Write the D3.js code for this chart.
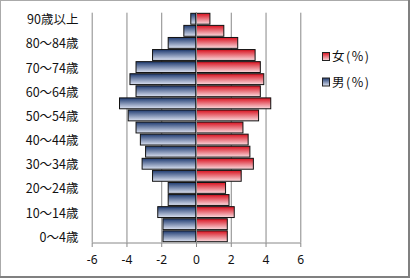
<!DOCTYPE html>
<html><head><meta charset="utf-8">
<script src="https://cdn.jsdelivr.net/npm/d3@7/dist/d3.min.js"></script>
<style>body{margin:0;background:#fff}svg{display:block}text{font-family:"Noto Sans CJK JP","Noto Sans",sans-serif;fill:#111}</style>
</head><body><svg id="c" width="410" height="278"></svg>
<script>
const categories = ["0～4歳","5～9歳","10～14歳","15～19歳","20～24歳","25～29歳","30～34歳","35～39歳","40～44歳","45～49歳","50～54歳","55～59歳","60～64歳","65～69歳","70～74歳","75～79歳","80～84歳","85～89歳","90歳以上"];
const male = [-1.9,-1.9,-2.2,-1.6,-1.6,-2.5,-3.1,-2.9,-3.2,-3.45,-3.9,-4.4,-3.45,-3.8,-3.45,-2.5,-1.6,-0.7,-0.3];
const female = [1.8,1.8,2.2,1.9,1.7,2.6,3.3,3.1,3.0,2.7,3.6,4.3,3.7,3.9,3.7,3.4,2.4,1.6,0.8];
const xTicks = [-6,-4,-2,0,2,4,6];
const seriesNames = ["女(%)","男(%)"];

const svg = d3.select("#c");
const defs = svg.append("defs");
function grad(id, c1, c2){
  const g = defs.append("linearGradient").attr("id",id).attr("x1",0).attr("y1",0).attr("x2",0).attr("y2",1);
  g.append("stop").attr("offset","0%").attr("stop-color",c1);
  g.append("stop").attr("offset","100%").attr("stop-color",c2);
}
grad("gm","#1e3a70","#dde3f2");
grad("gf","#d8101e","#fadce0");

const x = d3.scaleLinear().domain([-6,6]).range([91.7,300.3]);
const y = d3.scaleBand().domain(categories.slice().reverse()).range([12.7,242.3]).paddingInner(0.1).paddingOuter(0.05);

// gridlines
svg.append("g").selectAll("line").data(xTicks).join("line")
  .attr("x1",d=>x(d)+0.5).attr("x2",d=>x(d)+0.5)
  .attr("y1",12.7).attr("y2",242.3).attr("stroke","#888").attr("stroke-width",1);

// bars
const rows = categories.map((c,i)=>({c, m:male[i], f:female[i]}));
svg.append("g").selectAll("rect").data(rows).join("rect")
  .attr("x",d=>x(d.m)).attr("width",d=>x(0)-x(d.m))
  .attr("y",d=>y(d.c)).attr("height",y.bandwidth())
  .attr("fill","url(#gm)").attr("stroke","#111").attr("stroke-width",1);
svg.append("g").selectAll("rect").data(rows).join("rect")
  .attr("x",x(0)).attr("width",d=>x(d.f)-x(0))
  .attr("y",d=>y(d.c)).attr("height",y.bandwidth())
  .attr("fill","url(#gf)").attr("stroke","#111").attr("stroke-width",1);

// zero axis
svg.append("line").attr("x1",x(0)+0.5).attr("x2",x(0)+0.5).attr("y1",12.7).attr("y2",242.3).attr("stroke","#888");

// x axis
const xa = svg.append("g").attr("transform","translate(0,242.5)")
  .call(d3.axisBottom(x).tickValues(xTicks).tickSize(4.5).tickSizeOuter(0).tickPadding(8).tickFormat(d=>d));
xa.select(".domain").attr("stroke","#888");
xa.selectAll(".tick line").attr("stroke","#888");
xa.selectAll("text").attr("font-size",12).style("font-family",'"Noto Sans","DejaVu Sans",sans-serif').attr("fill","#111");

// y labels
svg.append("g").selectAll("text").data(categories.filter((d,i)=>i%2===0)).join("text")
  .attr("x",78.5).attr("y",d=>y(d)+y.bandwidth()/2+1).attr("dy","0.36em")
  .attr("text-anchor","end").attr("font-size",12.5).text(d=>d);

// legend
const lg = svg.append("g");
const lgFill = ["url(#gf)","url(#gm)"];
const lgY = [56.5, 82];
seriesNames.forEach((n,i)=>{
  lg.append("rect").attr("x",322.5).attr("y",lgY[i]-4).attr("width",7).attr("height",8)
    .attr("fill",lgFill[i]).attr("stroke","#222").attr("stroke-width",1);
  lg.append("text").attr("x",332).attr("y",lgY[i]).attr("dy","0.36em").attr("font-size",12.5)
    .attr("textLength",37).attr("lengthAdjust","spacing").text(n);
});

// outer border
svg.append("line").attr("x1",0.5).attr("x2",0.5).attr("y1",0).attr("y2",278).attr("stroke","#aaa");
svg.append("line").attr("x1",0).attr("x2",410).attr("y1",0.5).attr("y2",0.5).attr("stroke","#aaa");
svg.append("line").attr("x1",409).attr("x2",409).attr("y1",0).attr("y2",278).attr("stroke","#808080").attr("stroke-width",2);
svg.append("line").attr("x1",0).attr("x2",410).attr("y1",277).attr("y2",277).attr("stroke","#808080").attr("stroke-width",2);
</script></body></html>
